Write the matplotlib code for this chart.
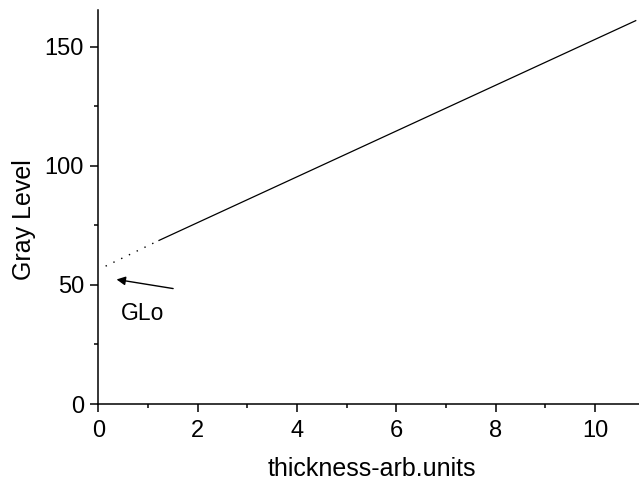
import matplotlib
matplotlib.use('Agg')
import matplotlib.pyplot as plt
from matplotlib.ticker import MultipleLocator

plt.rcParams['font.family'] = ['Liberation Sans', 'DejaVu Sans']

# extrapolated part (dotted) and measured part (solid)
x_extrap = [0.145, 1.22]
y_extrap = [57.9, 68.7]
x_fit = [1.22, 10.82]
y_fit = [68.7, 161.0]

# GLo annotation
arrow_tip = (0.31, 52.5)
arrow_tail = (1.56, 48.3)

fig = plt.figure(figsize=(6.39, 4.8), dpi=100)
ax = fig.add_axes([0.154, 0.1583, 0.846, 0.821])

ax.plot(x_extrap, y_extrap, color='black', linestyle=(0, (1, 5.2)), linewidth=1)
ax.plot(x_fit, y_fit, color='black', linestyle='-', linewidth=0.9)

ax.annotate('', xy=arrow_tip, xytext=arrow_tail,
            arrowprops=dict(arrowstyle='-|>', color='black', lw=1, mutation_scale=13))
ax.text(0.45, 35.3, 'GLo', fontsize=16.5, va='baseline', ha='left')

ax.set_xlim(0, 10.886)
ax.set_ylim(0, 165.5)
ax.xaxis.set_major_locator(MultipleLocator(2))
ax.xaxis.set_minor_locator(MultipleLocator(1))
ax.yaxis.set_major_locator(MultipleLocator(50))
ax.yaxis.set_minor_locator(MultipleLocator(25))

ax.spines['top'].set_visible(False)
ax.spines['right'].set_visible(False)
for s in ['left', 'bottom']:
    ax.spines[s].set_linewidth(1.1)
ax.tick_params(which='major', length=5.5, width=1.1, labelsize=17, direction='out')
ax.tick_params(which='minor', length=3, width=1.1, direction='out')
ax.tick_params(axis='x', which='major', pad=6)
ax.tick_params(axis='y', which='major', pad=4.8)

fig.text(371.7 / 639, 1 - 476 / 480, 'thickness-arb.units', fontsize=18,
         ha='center', va='baseline')
fig.text(23.5 / 639, 1 - 220 / 480, 'Gray Level', fontsize=18,
         ha='center', va='center', rotation=90)

fig.savefig('out.png', dpi=100)
